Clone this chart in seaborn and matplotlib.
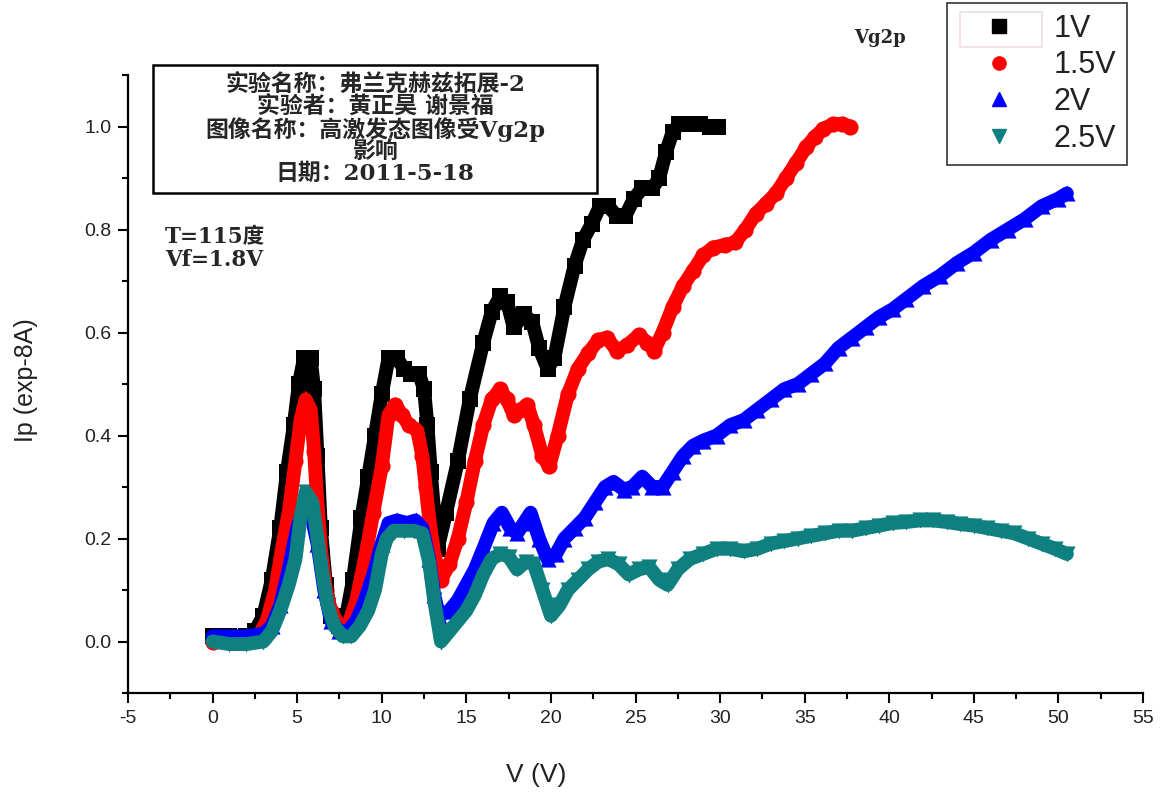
import matplotlib
matplotlib.use("Agg")
import matplotlib.pyplot as plt
import seaborn as sns
import pandas as pd
from matplotlib.lines import Line2D
from matplotlib.patches import Rectangle
from matplotlib.ticker import MultipleLocator

# ---------------- data ----------------
series_labels = ["1V", "1.5V", "2V", "2.5V"]

v_1V = [0, 1, 2, 2.5, 3, 3.5, 4.0, 4.4, 4.8, 5.1, 5.4, 5.8, 6.0, 6.2, 6.4, 6.7, 7.0, 7.5,
        7.9, 8.3, 8.8, 9.2, 9.6, 10.0, 10.4, 10.9, 11.3, 11.7, 12.2, 12.5, 12.7, 12.9, 13.1,
        13.3, 13.8, 14.5, 15.2, 16.0, 16.5, 17.0, 17.4, 17.8, 18.4, 18.9, 19.3, 19.8, 20.2,
        20.8, 21.4, 21.9, 22.4, 22.9, 23.4, 23.9, 24.4, 24.9, 25.4, 26.0, 26.4, 26.8, 27.2,
        27.6, 28.2, 28.8, 29.4, 29.9]
ip_1V = [0.01, 0.01, 0.01, 0.02, 0.05, 0.12, 0.22, 0.33, 0.42, 0.50, 0.55, 0.55, 0.49, 0.36,
         0.22, 0.11, 0.05, 0.03, 0.05, 0.12, 0.24, 0.32, 0.40, 0.48, 0.55, 0.55, 0.53, 0.52,
         0.52, 0.49, 0.42, 0.33, 0.25, 0.18, 0.25, 0.35, 0.47, 0.58, 0.64, 0.67, 0.66, 0.61,
         0.635, 0.62, 0.57, 0.53, 0.55, 0.65, 0.73, 0.78, 0.81, 0.845, 0.845, 0.826, 0.826,
         0.86, 0.88, 0.88, 0.90, 0.95, 0.99, 1.005, 1.005, 1.005, 1.0, 1.0]

v_15V = [0, 1, 2, 2.7, 3.2, 3.7, 4.1, 4.5, 4.9, 5.2, 5.5, 5.8, 6.0, 6.15, 6.4, 6.7, 7.0, 7.5,
         8.0, 8.5, 9.0, 9.5, 10.0, 10.4, 10.8, 11.2, 11.6, 12.1, 12.4, 12.6, 12.8, 13.1, 13.5,
         14.0, 14.5, 15.0, 15.5, 16.0, 16.5, 17.0, 17.4, 17.8, 18.2, 18.6, 19.0, 19.5, 19.9,
         20.4, 21.0, 21.6, 22.2, 22.8, 23.3, 23.9, 24.5, 25.2, 25.7, 26.1, 26.6, 27.2, 27.8,
         28.4, 29.0, 29.6, 30.3, 30.9, 31.5, 32.1, 32.7, 33.3, 33.9, 34.5, 35.1, 35.6, 36.1,
         36.7, 37.2, 37.7]
ip_15V = [0.0, 0.0, 0.005, 0.01, 0.04, 0.10, 0.18, 0.25, 0.35, 0.43, 0.47, 0.45, 0.37, 0.29,
          0.18, 0.10, 0.06, 0.03, 0.03, 0.08, 0.16, 0.25, 0.34, 0.44, 0.46, 0.44, 0.42, 0.41,
          0.36, 0.30, 0.24, 0.17, 0.12, 0.15, 0.20, 0.27, 0.35, 0.42, 0.47, 0.49, 0.47, 0.44,
          0.45, 0.46, 0.42, 0.36, 0.34, 0.40, 0.48, 0.53, 0.56, 0.585, 0.59, 0.565, 0.575,
          0.595, 0.58, 0.565, 0.60, 0.65, 0.69, 0.72, 0.75, 0.765, 0.77, 0.775, 0.80, 0.83,
          0.85, 0.87, 0.90, 0.93, 0.96, 0.98, 0.995, 1.005, 1.005, 1.0]

v_2V = [0, 1, 2, 3, 3.5, 4.0, 4.5, 5.0, 5.4, 5.8, 6.2, 6.6, 7.0, 7.5, 8.0, 8.5, 9.0, 9.5,
        10.0, 10.4, 10.9, 11.5, 12.0, 12.4, 12.8, 13.1, 13.4, 14.0, 14.5, 15.0, 15.5, 16.0,
        16.6, 17.1, 17.6, 18.0, 18.4, 18.8, 19.3, 19.8, 20.3, 20.8, 21.4, 22.0, 22.6, 23.2,
        23.7, 24.3, 24.8, 25.4, 26.0, 26.6, 27.2, 27.8, 28.4, 29.0, 29.8, 30.6, 31.4, 32.2,
        33.0, 33.8, 34.6, 35.4, 36.2, 37.0, 37.8, 38.6, 39.4, 40.2, 41.0, 42.0, 43.0, 44.0,
        45.0, 46.0, 47.0, 48.0, 49.0, 50.0, 50.5]
ip_2V = [0.01, 0.01, 0.01, 0.015, 0.03, 0.07, 0.14, 0.22, 0.26, 0.25, 0.19, 0.10, 0.04, 0.02,
         0.02, 0.04, 0.08, 0.13, 0.19, 0.23, 0.235, 0.23, 0.235, 0.22, 0.16, 0.09, 0.05, 0.06,
         0.08, 0.11, 0.14, 0.18, 0.23, 0.25, 0.22, 0.21, 0.23, 0.25, 0.20, 0.16, 0.17, 0.20,
         0.22, 0.24, 0.27, 0.30, 0.31, 0.295, 0.30, 0.32, 0.30, 0.30, 0.33, 0.36, 0.38, 0.39,
         0.40, 0.42, 0.43, 0.45, 0.47, 0.49, 0.50, 0.52, 0.54, 0.57, 0.59, 0.61, 0.63, 0.645,
         0.665, 0.69, 0.71, 0.735, 0.755, 0.78, 0.80, 0.82, 0.845, 0.86, 0.87]

v_25V = [0, 1, 2, 3, 3.5, 4.0, 4.5, 4.9, 5.2, 5.5, 5.9, 6.2, 6.5, 6.8, 7.2, 7.7, 8.2, 8.7,
         9.2, 9.6, 10.0, 10.3, 10.7, 11.3, 11.9, 12.4, 12.8, 13.1, 13.5, 14.0, 14.5, 15.0,
         15.5, 16.0, 16.5, 17.0, 17.5, 18.0, 18.5, 19.0, 19.5, 20.0, 20.5, 21.0, 21.6, 22.2,
         22.8, 23.4, 24.0, 24.6, 25.2, 25.8, 26.4, 26.9, 27.5, 28.2, 29.0, 29.8, 30.6, 31.4,
         32.2, 33.0, 33.8, 34.6, 35.4, 36.2, 37.0, 37.8, 38.6, 39.4, 40.2, 41.0, 41.8, 42.6,
         43.4, 44.2, 45.0, 45.8, 46.6, 47.4, 48.2, 49.0, 49.8, 50.5]
ip_25V = [0.0, -0.005, -0.005, 0.0, 0.02, 0.06, 0.11, 0.16, 0.24, 0.29, 0.27, 0.20, 0.13, 0.07,
          0.03, 0.01, 0.01, 0.03, 0.06, 0.10, 0.17, 0.20, 0.215, 0.215, 0.215, 0.21, 0.155,
          0.08, 0.0, 0.02, 0.04, 0.06, 0.09, 0.13, 0.16, 0.17, 0.165, 0.14, 0.155, 0.15, 0.10,
          0.05, 0.07, 0.10, 0.12, 0.14, 0.155, 0.16, 0.15, 0.13, 0.14, 0.145, 0.12, 0.11, 0.14,
          0.16, 0.17, 0.18, 0.18, 0.175, 0.18, 0.19, 0.195, 0.20, 0.205, 0.21, 0.215, 0.215,
          0.22, 0.225, 0.23, 0.232, 0.235, 0.235, 0.232, 0.228, 0.225, 0.22, 0.215, 0.21, 0.20,
          0.19, 0.18, 0.17]

x_ticks = [-5, 0, 5, 10, 15, 20, 25, 30, 35, 40, 45, 50, 55]
y_ticks = [0.0, 0.2, 0.4, 0.6, 0.8, 1.0]

info_lines = ["实验名称：弗兰克赫兹拓展-2", "实验者：黄正昊 谢景福",
              "图像名称：高激发态图像受Vg2p", "影响", "日期：2011-5-18"]
cond_lines = ["T=115度", "Vf=1.8V"]

# ---------------- style ----------------
colors = ["#000000", "#ff0000", "#0000ff", "#0f8080"]
markers = ["s", "o", "^", "v"]

sns.set_theme(style="ticks")
plt.rcParams["font.family"] = ["Liberation Sans", "Noto Sans CJK SC", "DejaVu Sans"]

W, H = 1166, 796
fig = plt.figure(figsize=(W / 100, H / 100), dpi=100)
ax = fig.add_axes([128 / W, (H - 693) / H, (1143 - 128) / W, (693 - 75) / H])

frames = []
for lab, xs, ys in zip(series_labels, [v_1V, v_15V, v_2V, v_25V], [ip_1V, ip_15V, ip_2V, ip_25V]):
    frames.append(pd.DataFrame({"V": xs, "Ip": ys, "Vg2p": lab}))
df = pd.concat(frames, ignore_index=True)

for lab, c, m in zip(series_labels, colors, markers):
    d = df[df["Vg2p"] == lab]
    sns.lineplot(data=d, x="V", y="Ip", color=c, linewidth=10, estimator=None, sort=False,
                 legend=False, ax=ax, solid_joinstyle="round", solid_capstyle="round")
    sns.scatterplot(data=d, x="V", y="Ip", color=c, marker=m, s=135, linewidth=0,
                    legend=False, ax=ax)

ax.set_xlim(-5, 55)
ax.set_ylim(-0.1, 1.1)
ax.set_xticks(x_ticks)
ax.set_yticks(y_ticks)
ax.set_xticklabels([str(t) for t in x_ticks])
ax.set_yticklabels([f"{t:.1f}" for t in y_ticks])
ax.xaxis.set_minor_locator(MultipleLocator(2.5))
ax.yaxis.set_minor_locator(MultipleLocator(0.1))
for s in ["top", "right"]:
    ax.spines[s].set_visible(False)
for s in ["left", "bottom"]:
    ax.spines[s].set_linewidth(1.6)
    ax.spines[s].set_color("black")
ax.tick_params(which="major", direction="out", length=7, width=1.5, color="black",
               labelsize=14, labelcolor="#222222", pad=5)
ax.tick_params(which="minor", direction="out", length=4, width=1.5, color="black")
ax.tick_params(axis="x", which="both", bottom=True)
ax.tick_params(axis="y", which="both", left=True)

ax.set_xlabel("V (V)", fontsize=19, color="#222222")
ax.set_ylabel("Ip (exp-8A)", fontsize=18, color="#222222")
ax.xaxis.set_label_coords((536 - 128) / 1015, -(763 - 693) / 618)
ax.yaxis.set_label_coords((38 - 128) / 1015, (693 - 380) / 618)

# legend
handles = [Line2D([], [], linestyle="none", marker=m, color=c, markersize=9.5)
           for c, m in zip(colors, markers)]
leg = fig.legend(handles, series_labels, loc="upper left",
                 bbox_to_anchor=(947 / W, 1 - 3 / H), frameon=True, fancybox=False,
                 edgecolor="black", fontsize=22, handlelength=2.7, handletextpad=0.45,
                 borderpad=0.35, labelspacing=0.22, borderaxespad=0)
leg.get_frame().set_linewidth(1.2)
for t in leg.get_texts():
    t.set_color("#222222")
fig.add_artist(Rectangle((960 / W, 1 - 47 / H), 82 / W, 35 / H, transform=fig.transFigure,
                         fill=False, edgecolor="#c85a5a", linewidth=1.2))

fig.text(880 / W, 1 - 38 / H, "Vg2p", ha="center", va="center", fontsize=13,
         fontweight="bold", family=["DejaVu Serif", "Noto Sans CJK SC"])

# info box
fig.add_artist(Rectangle((153 / W, 1 - 193 / H), (597 - 153) / W, (193 - 65) / H,
                         transform=fig.transFigure, fill=False, edgecolor="black",
                         linewidth=1.8))
fig.text(375 / W, 1 - 129 / H, "\n".join(info_lines), ha="center", va="center",
         multialignment="center", fontsize=16.5, linespacing=0.98, fontweight="bold",
         family=["DejaVu Serif", "Noto Sans CJK SC"])
fig.text(165 / W, 1 - 249 / H, "\n".join(cond_lines), ha="left", va="center",
         multialignment="left", fontsize=15.5, linespacing=1.05, fontweight="bold",
         family=["DejaVu Serif", "Noto Sans CJK SC"])

fig.savefig("out.png", dpi=100)
